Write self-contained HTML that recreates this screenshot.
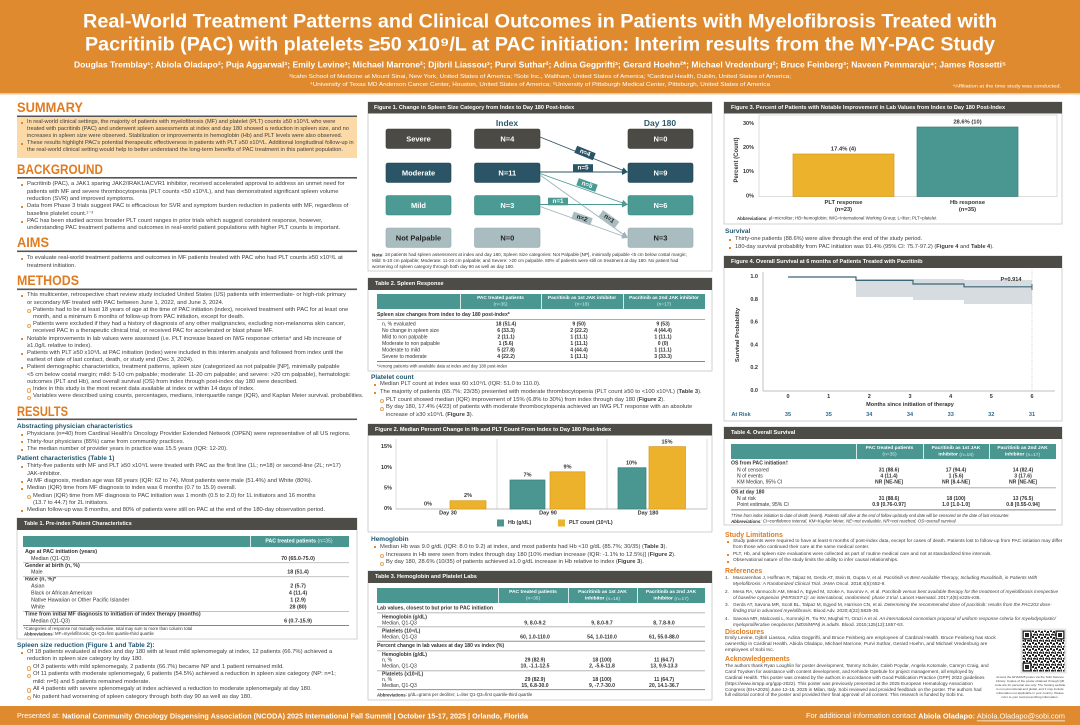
<!DOCTYPE html>
<html><head><meta charset="utf-8">
<style>
*{margin:0;padding:0;box-sizing:border-box}
body{width:1080px;height:725px;position:relative;overflow:hidden;background:#fff;font-family:"Liberation Sans",Arial,sans-serif}
svg{position:absolute;left:0;top:0}
svg text{font-family:"Liberation Sans",Arial,sans-serif;dominant-baseline:central}
.p{position:absolute;font-size:5.8px;line-height:7.3px;color:#3c3c3c;white-space:nowrap}
.p>div{position:relative}
.b{padding-left:11px}
.b:before{content:"";position:absolute;left:4.5px;top:2.7px;width:2px;height:2px;background:#E8842A}
.s{padding-left:17px}
.s:before{content:"";position:absolute;left:11px;top:2.3px;width:2.4px;height:2.4px;border:0.6px solid #ECA55C;border-radius:50%}
.sh{position:absolute;font-size:6.5px;font-weight:bold;color:#1F5670;white-space:nowrap;line-height:8px}
.oh{position:absolute;font-size:6.9px;font-weight:bold;color:#E07B20;white-space:nowrap;line-height:9px}
.r{font-size:4.7px;line-height:6.2px}
.r>div{padding-left:9px;margin-bottom:1.1px}
.r>div span.n{position:absolute;left:1px}
</style></head><body>
<svg width="1080" height="725" viewBox="0 0 1080 725">
<defs>
<marker id="ad" markerWidth="6" markerHeight="6" refX="5" refY="3" orient="auto" markerUnits="userSpaceOnUse"><path d="M0,0 L6,3 L0,6 z" fill="#2B5566"/></marker>
<marker id="at" markerWidth="6" markerHeight="6" refX="5" refY="3" orient="auto" markerUnits="userSpaceOnUse"><path d="M0,0 L6,3 L0,6 z" fill="#4B9A94"/></marker>
<marker id="ag" markerWidth="6" markerHeight="6" refX="5" refY="3" orient="auto" markerUnits="userSpaceOnUse"><path d="M0,0 L6,3 L0,6 z" fill="#9FB3B8"/></marker>
<pattern id="qr" width="6" height="6" patternUnits="userSpaceOnUse"><rect width="6" height="6" fill="#fff"/><rect x="0" y="0" width="2" height="2" fill="#222"/><rect x="3" y="1" width="2" height="2" fill="#222"/><rect x="1" y="4" width="3" height="1.5" fill="#222"/><rect x="4.5" y="3.5" width="1.5" height="2.5" fill="#222"/><rect x="2" y="2.5" width="1" height="1" fill="#222"/></pattern>
</defs>

<!-- HEADER -->
<rect x="0" y="0" width="1080" height="93" fill="#DF8A2F"/>
<rect x="0" y="93" width="1080" height="1.5" fill="#F2C595"/>
<text x="540" y="22" text-anchor="middle" font-size="19" font-weight="bold" fill="#fff" textLength="914" lengthAdjust="spacingAndGlyphs">Real-World Treatment Patterns and Clinical Outcomes in Patients with Myelofibrosis Treated with</text>
<text x="540" y="45" text-anchor="middle" font-size="19" font-weight="bold" fill="#fff" textLength="910" lengthAdjust="spacingAndGlyphs">Pacritinib (PAC) with platelets ≥50 x10⁹/L at PAC initiation: Interim results from the MY-PAC Study</text>
<text x="540" y="65" text-anchor="middle" font-size="8.2" font-weight="bold" fill="#fff" textLength="932" lengthAdjust="spacingAndGlyphs">Douglas Tremblay¹; Abiola Oladapo²; Puja Aggarwal³; Emily Levine³; Michael Marrone²; Djibril Liassou³; Purvi Suthar²; Adina Gegprifti³; Gerard Hoehn²*; Michael Vredenburg²; Bruce Feinberg³; Naveen Pemmaraju⁴; James Rossetti⁵</text>
<text x="540" y="77" text-anchor="middle" font-size="5.5" fill="#fff" textLength="502" lengthAdjust="spacingAndGlyphs">¹Icahn School of Medicine at Mount Sinai, New York, United States of America; ²Sobi Inc., Waltham, United States of America; ³Cardinal Health, Dublin, United States of America;</text>
<text x="540" y="85" text-anchor="middle" font-size="5.5" fill="#fff" textLength="460" lengthAdjust="spacingAndGlyphs">⁴University of Texas MD Anderson Cancer Center, Houston, United States of America; ⁵University of Pittsburgh Medical Center, Pittsburgh, United States of America</text>
<text x="1007" y="86" text-anchor="middle" font-size="4.5" fill="#fff" textLength="108" lengthAdjust="spacingAndGlyphs">*Affiliation at the time study was conducted.</text>

<!-- FOOTER -->
<rect x="0" y="706" width="1080" height="19" fill="#DF8A2F"/>
<text x="17" y="715.5" font-size="7.4" fill="#fff" textLength="511" lengthAdjust="spacingAndGlyphs">Presented at: <tspan font-weight="bold">National Community Oncology Dispensing Association (NCODA) 2025 International Fall Summit  |  October 15-17, 2025  |  Orlando, Florida</tspan></text>
<text x="806" y="715.5" font-size="7.4" fill="#fff" textLength="259" lengthAdjust="spacingAndGlyphs">For additional information contact <tspan font-weight="bold">Abiola Oladapo:</tspan> <tspan text-decoration="underline">Abiola.Oladapo@sobi.com</tspan></text>
<rect x="983" y="720.5" width="82" height="0.6" fill="#fff"/>

<!-- LEFT HEADINGS -->
<g font-size="14" font-weight="bold" fill="#E07B20">
<text x="17" y="107" textLength="66" lengthAdjust="spacingAndGlyphs">SUMMARY</text>
<text x="17" y="169" textLength="86" lengthAdjust="spacingAndGlyphs">BACKGROUND</text>
<text x="17" y="242" textLength="32" lengthAdjust="spacingAndGlyphs">AIMS</text>
<text x="17" y="280" textLength="62" lengthAdjust="spacingAndGlyphs">METHODS</text>
<text x="17" y="411" textLength="51" lengthAdjust="spacingAndGlyphs">RESULTS</text>
</g>
<g fill="#555">
<rect x="17" y="115.5" width="340" height="1.6"/>
<rect x="17" y="177" width="340" height="1.6"/>
<rect x="17" y="250.5" width="340" height="1.6"/>
<rect x="17" y="288.5" width="340" height="1.6"/>
<rect x="17" y="418.5" width="340" height="1.6"/>
</g>
<rect x="17" y="117.5" width="340" height="40.5" fill="#FCDAA8"/>

<!-- TABLE 1 -->
<rect x="17" y="518" width="340" height="121" fill="#fff" stroke="#C8C8C8" stroke-width="0.8"/>
<rect x="17" y="518" width="340" height="12" fill="#4D4C47"/>
<text x="24" y="524" font-size="5.5" font-weight="bold" fill="#fff">Table 1. Pre-index Patient Characteristics</text>
<rect x="23" y="536" width="326" height="11" fill="#4A9691"/>
<rect x="250" y="536" width="0.8" height="11" fill="#fff"/>
<text x="299" y="541.5" text-anchor="middle" font-size="5.2" font-weight="bold" fill="#fff">PAC treated patients <tspan font-weight="normal" fill="#d8ecea">(n=35)</tspan></text>
<g font-size="5.4" fill="#333">
<text x="25" y="552" font-weight="bold">Age at PAC initiation (years)</text>
<text x="31" y="559">Median (Q1-Q3)</text>
<text x="25" y="566" font-weight="bold">Gender at birth (n, %)</text>
<text x="31" y="572.5">Male</text>
<text x="25" y="579.5" font-weight="bold">Race (n, %)*</text>
<text x="31" y="586.5">Asian</text>
<text x="31" y="593.5">Black or African American</text>
<text x="31" y="600.3">Native Hawaiian or Other Pacific Islander</text>
<text x="31" y="607.3">White</text>
<text x="25" y="614.3" font-weight="bold">Time from initial MF diagnosis to initiation of index therapy (months)</text>
<text x="31" y="621.5">Median (Q1-Q3)</text>
<g font-weight="bold" text-anchor="middle">
<text x="298" y="559">70 (65.0-75.0)</text>
<text x="298" y="572.5">18 (51.4)</text>
<text x="298" y="586.5">2 (5.7)</text>
<text x="298" y="593.5">4 (11.4)</text>
<text x="298" y="600.3">1 (2.9)</text>
<text x="298" y="607.3">28 (80)</text>
<text x="298" y="621.5">6 (0.7-15.9)</text>
</g>
<text x="24" y="628.5" font-size="4.3">*Categories of response not mutually exclusive, total may sum to more than column total</text>
<text x="24" y="633.5" font-size="4.3"><tspan font-weight="bold">Abbreviations</tspan>: MF=myelofibrosis; Q1-Q3=first quartile-third quartile</text>
</g>
<g fill="#999">
<rect x="23" y="562.5" width="326" height="0.6"/>
<rect x="23" y="576.5" width="326" height="0.6"/>
<rect x="23" y="611" width="326" height="0.6"/>
<rect x="23" y="625" width="326" height="0.8" fill="#666"/>
</g>

<!-- FIGURE 1 -->
<rect x="368" y="102" width="344" height="169" fill="#fff" stroke="#C6C6C6" stroke-width="0.8"/>
<rect x="368" y="102" width="344" height="11.5" fill="#4D4C47"/>
<text x="374" y="108" font-size="5.6" font-weight="bold" fill="#fff">Figure 1. Change in Spleen Size Category from Index to Day 180 Post-Index</text>
<text x="507" y="123" text-anchor="middle" font-size="8.5" font-weight="bold" fill="#2D5A6E">Index</text>
<text x="660" y="123" text-anchor="middle" font-size="8.5" font-weight="bold" fill="#2D5A6E">Day 180</text>
<g stroke-width="0.6">
<rect x="386" y="129" width="65" height="19.5" rx="2" fill="#4B4A45" stroke="#3a3935"/>
<rect x="474.5" y="129" width="65.5" height="19.5" rx="2" fill="#4B4A45" stroke="#3a3935"/>
<rect x="628" y="129" width="65" height="19.5" rx="2" fill="#4B4A45" stroke="#3a3935"/>
<rect x="386" y="163" width="65" height="19.5" rx="2" fill="#2B5566" stroke="#1e4352"/>
<rect x="474.5" y="163" width="65.5" height="19.5" rx="2" fill="#2B5566" stroke="#1e4352"/>
<rect x="628" y="163" width="65" height="19.5" rx="2" fill="#2B5566" stroke="#1e4352"/>
<rect x="386" y="195.5" width="65" height="19.5" rx="2" fill="#4B9A94" stroke="#3b847e"/>
<rect x="474.5" y="195.5" width="65.5" height="19.5" rx="2" fill="#4B9A94" stroke="#3b847e"/>
<rect x="628" y="195.5" width="65" height="19.5" rx="2" fill="#4B9A94" stroke="#3b847e"/>
<rect x="386" y="228" width="65" height="19.5" rx="2" fill="#A9BDC1" stroke="#94a9ad"/>
<rect x="474.5" y="228" width="65.5" height="19.5" rx="2" fill="#A9BDC1" stroke="#94a9ad"/>
<rect x="628" y="228" width="65" height="19.5" rx="2" fill="#A9BDC1" stroke="#94a9ad"/>
</g>
<g font-size="7.5" font-weight="bold" fill="#fff" text-anchor="middle">
<text x="418.5" y="138.8">Severe</text><text x="507.3" y="138.8">N=4</text><text x="660.5" y="138.8">N=0</text>
<text x="418.5" y="172.8">Moderate</text><text x="507.3" y="172.8">N=11</text><text x="660.5" y="172.8">N=9</text>
<text x="418.5" y="205.3">Mild</text><text x="507.3" y="205.3">N=3</text><text x="660.5" y="205.3">N=6</text>
<g fill="#222"><text x="418.5" y="237.8">Not Palpable</text><text x="507.3" y="237.8">N=0</text><text x="660.5" y="237.8">N=3</text></g>
</g>
<g stroke-width="0.9">
<line x1="540" y1="137" x2="627" y2="172" stroke="#2B5566" marker-end="url(#ad)"/>
<line x1="540" y1="172" x2="627" y2="172" stroke="#2B5566" marker-end="url(#ad)"/>
<line x1="540" y1="173.5" x2="627" y2="204.5" stroke="#4B9A94" marker-end="url(#at)"/>
<line x1="540" y1="175" x2="627" y2="237" stroke="#9FB3B8" marker-end="url(#ag)"/>
<line x1="540" y1="204.5" x2="627" y2="204.5" stroke="#4B9A94" marker-end="url(#at)"/>
<line x1="540" y1="206.5" x2="627" y2="237.5" stroke="#9FB3B8" marker-end="url(#ag)"/>
</g>
<g font-size="6.3" font-weight="bold" text-anchor="middle">
<g transform="translate(585,153) rotate(22)"><rect x="-10" y="-3.8" width="20" height="7.6" fill="#2B5566"/><text x="0" y="0" fill="#fff">n=4</text></g>
<g transform="translate(583,168)"><rect x="-10" y="-3.8" width="20" height="7.6" fill="#2B5566"/><text x="0" y="0" fill="#fff">n=5</text></g>
<g transform="translate(587,185) rotate(19.6)"><rect x="-10" y="-3.8" width="20" height="7.6" fill="#4B9A94"/><text x="0" y="0" fill="#fff">n=5</text></g>
<g transform="translate(609,219) rotate(35.5)"><rect x="-10" y="-3.8" width="20" height="7.6" fill="#A9BDC1"/><text x="0" y="0" fill="#222">n=1</text></g>
<g transform="translate(558,201.5)"><rect x="-10" y="-3.8" width="20" height="7.6" fill="#4B9A94"/><text x="0" y="0" fill="#fff">n=1</text></g>
<g transform="translate(582,218.5) rotate(19.6)"><rect x="-10" y="-3.8" width="20" height="7.6" fill="#A9BDC1"/><text x="0" y="0" fill="#222">n=2</text></g>
</g>
<g font-size="4.6" fill="#333">
<text x="372" y="254.5"><tspan font-weight="bold">Note</tspan>: 18 patients had spleen assessment at index and day 180, Spleen Size categories: Not Palpable [NP], minimally palpable &lt;5 cm below costal margin;</text>
<text x="372" y="260.5">Mild: 5-10 cm palpable; Moderate: 11-20 cm palpable; and Severe: &gt;20 cm palpable. 80% of patients were still on treatment at day 180. No patient had</text>
<text x="372" y="266.5">worsening of spleen category through both day 90 as well as day 180.</text>
</g>

<!-- TABLE 2 -->
<rect x="368" y="278" width="344" height="93" fill="#fff" stroke="#C6C6C6" stroke-width="0.8"/>
<rect x="368" y="278" width="344" height="12" fill="#4D4C47"/>
<text x="375" y="284" font-size="5.6" font-weight="bold" fill="#fff">Table 2. Spleen Response</text>
<rect x="377" y="294" width="328" height="15" fill="#4A9691"/>
<g fill="#fff"><rect x="460" y="294" width="0.8" height="15"/><rect x="541" y="294" width="0.8" height="15"/><rect x="623" y="294" width="0.8" height="15"/></g>
<g font-size="4.8" font-weight="bold" fill="#fff" text-anchor="middle">
<text x="500.5" y="298.5">PAC treated patients</text><text x="582" y="298.5">Pacritinib as 1st JAK inhibitor</text><text x="664" y="298.5">Pacritinib as 2nd JAK inhibitor</text>
<g font-weight="normal" fill="#d8ecea"><text x="500.5" y="305">(n=35)</text><text x="582" y="305">(n=18)</text><text x="664" y="305">(n=17)</text></g>
</g>
<g font-size="5.1" fill="#333">
<text x="377" y="315" font-weight="bold">Spleen size changes from index to day 180 post-index*</text>
<text x="382" y="324.3">n, % evaluated</text>
<text x="382" y="330.8">No change in spleen size</text>
<text x="382" y="337.3">Mild to non palpable</text>
<text x="382" y="343.8">Moderate to non palpable</text>
<text x="382" y="350.5">Moderate to mild</text>
<text x="382" y="357">Severe to moderate</text>
<g font-weight="bold" text-anchor="middle">
<text x="506" y="324.3">18 (51.4)</text><text x="579" y="324.3">9 (50)</text><text x="663" y="324.3">9 (53)</text>
<text x="506" y="330.8">6 (33.3)</text><text x="579" y="330.8">2 (22.2)</text><text x="663" y="330.8">4 (44.4)</text>
<text x="506" y="337.3">2 (11.1)</text><text x="579" y="337.3">1 (11.1)</text><text x="663" y="337.3">1 (11.1)</text>
<text x="506" y="343.8">1 (5.6)</text><text x="579" y="343.8">1 (11.1)</text><text x="663" y="343.8">0 (0)</text>
<text x="506" y="350.5">5 (27.8)</text><text x="579" y="350.5">4 (44.4)</text><text x="663" y="350.5">1 (11.1)</text>
<text x="506" y="357">4 (22.2)</text><text x="579" y="357">1 (11.1)</text><text x="663" y="357">3 (33.3)</text>
</g>
<text x="377" y="366" font-size="4.3">*Among patients with available data at index and day 180 post-index</text>
</g>
<rect x="377" y="319" width="328" height="0.7" fill="#888"/>
<rect x="377" y="361" width="328" height="0.8" fill="#666"/>

<!-- FIGURE 2 -->
<rect x="368" y="424" width="344" height="108" fill="#fff" stroke="#C6C6C6" stroke-width="0.8"/>
<rect x="368" y="424" width="344" height="11.5" fill="#4D4C47"/>
<text x="375" y="430" font-size="5.6" font-weight="bold" fill="#fff">Figure 2. Median Percent Change in Hb and PLT Count From Index to Day 180 Post-Index</text>
<g stroke="#CFCFCF" stroke-width="0.7">
<line x1="396" y1="439" x2="396" y2="509"/><line x1="497" y1="439" x2="497" y2="509"/><line x1="607" y1="439" x2="607" y2="509"/><line x1="707" y1="439" x2="707" y2="509"/>
<line x1="396" y1="509" x2="707" y2="509" stroke="#AAA"/>
</g>
<g font-size="5.5" font-weight="bold" fill="#333" text-anchor="end">
<text x="392" y="447">15%</text><text x="392" y="468">10%</text><text x="392" y="488.5">5%</text><text x="392" y="509">0%</text>
</g>
<g stroke-width="0.7">
<rect x="450" y="500.7" width="36" height="8.3" fill="#EDB22C" stroke="#D39A1B"/>
<rect x="510" y="480" width="35" height="29" fill="#4A9691" stroke="#3A7C77"/>
<rect x="550" y="471.8" width="35" height="37.2" fill="#EDB22C" stroke="#D39A1B"/>
<rect x="618" y="467.7" width="28" height="41.3" fill="#4A9691" stroke="#3A7C77"/>
<rect x="649" y="446.6" width="36.5" height="62.4" fill="#EDB22C" stroke="#D39A1B"/>
</g>
<g font-size="5.5" font-weight="bold" fill="#333" text-anchor="middle">
<text x="428" y="504.5">0%</text><text x="468" y="496">2%</text><text x="527.5" y="475.5">7%</text><text x="567.5" y="467.5">9%</text><text x="631.5" y="463.5">10%</text><text x="667" y="442.5">15%</text>
<text x="448" y="513.5">Day 30</text><text x="548" y="513.5">Day 90</text><text x="648" y="513.5">Day 180</text>
</g>
<rect x="497" y="519.5" width="7" height="7" fill="#4A9691"/>
<text x="508" y="523" font-size="5.3" font-weight="bold" fill="#333">Hb (g/dL)</text>
<rect x="558" y="519.5" width="7" height="7" fill="#EDB22C"/>
<text x="569" y="523" font-size="5.3" font-weight="bold" fill="#333">PLT count (10⁹/L)</text>

<!-- TABLE 3 -->
<rect x="368" y="571" width="344" height="129" fill="#fff" stroke="#C6C6C6" stroke-width="0.8"/>
<rect x="368" y="571" width="344" height="12" fill="#4D4C47"/>
<text x="375" y="577" font-size="5.6" font-weight="bold" fill="#fff">Table 3. Hemoglobin and Platelet Labs</text>
<rect x="377" y="588" width="328" height="15" fill="#4A9691"/>
<g fill="#fff"><rect x="498" y="588" width="0.8" height="15"/><rect x="568" y="588" width="0.8" height="15"/><rect x="637" y="588" width="0.8" height="15"/></g>
<g font-size="4.9" font-weight="bold" fill="#fff" text-anchor="middle">
<text x="533" y="592.5">PAC treated patients</text><text x="602.5" y="592.5">Pacritinib as 1st JAK</text><text x="671" y="592.5">Pacritinib as 2nd JAK</text>
<text x="533" y="599" font-weight="normal" fill="#d8ecea">(n=35)</text>
<text x="602.5" y="599">inhibitor <tspan font-weight="normal" fill="#d8ecea">(n=18)</tspan></text>
<text x="671" y="599">inhibitor <tspan font-weight="normal" fill="#d8ecea">(n=17)</tspan></text>
</g>
<g font-size="5.1" fill="#333">
<text x="377" y="608.3" font-weight="bold">Lab values, closest to but prior to PAC initiation</text>
<text x="382" y="617.3" font-weight="bold">Hemoglobin (g/dL)</text>
<text x="382" y="623.3">Median, Q1-Q3</text>
<text x="382" y="631.7" font-weight="bold">Platelets (10⁹/L)</text>
<text x="382" y="637.3">Median, Q1-Q3</text>
<text x="377" y="646" font-weight="bold">Percent change in lab values at day 180 vs index (%)</text>
<text x="382" y="655" font-weight="bold">Hemoglobin (g/dL)</text>
<text x="382" y="660.7">n, %</text>
<text x="382" y="666.7">Median, Q1-Q3</text>
<text x="382" y="674.3" font-weight="bold">Platelets (x10⁹/L)</text>
<text x="382" y="680">n, %</text>
<text x="382" y="686">Median, Q1-Q3</text>
<g font-weight="bold" text-anchor="middle">
<text x="535" y="623.3">9, 8.0-9.2</text><text x="602" y="623.3">9, 8.0-9.7</text><text x="664" y="623.3">8, 7.8-9.0</text>
<text x="535" y="637.3">60, 1.0-110.0</text><text x="602" y="637.3">54, 1.0-110.0</text><text x="664" y="637.3">61, 55.0-88.0</text>
<text x="535" y="660.7">29 (82.9)</text><text x="602" y="660.7">18 (100)</text><text x="664" y="660.7">11 (64.7)</text>
<text x="535" y="666.7">10, -1.1-12.5</text><text x="602" y="666.7">2, -5.6-11.8</text><text x="664" y="666.7">13, 9.9-13.3</text>
<text x="535" y="680">29 (82.9)</text><text x="602" y="680">18 (100)</text><text x="664" y="680">11 (64.7)</text>
<text x="535" y="686">15, 6.8-30.0</text><text x="602" y="686">9, -7.7-30.0</text><text x="664" y="686">20, 14.1-36.7</text>
</g>
<text x="377" y="694.5" font-size="4.3"><tspan font-weight="bold">Abbreviations</tspan>: g/dL=grams per deciliter; L=liter Q1-Q3=first quartile-third quartile</text>
</g>
<g fill="#999">
<rect x="377" y="612.5" width="328" height="0.7"/>
<rect x="377" y="626.5" width="328" height="0.7"/>
<rect x="377" y="640.8" width="328" height="0.8" fill="#777"/>
<rect x="377" y="650.5" width="328" height="0.7"/>
<rect x="377" y="670.5" width="328" height="0.7"/>
<rect x="377" y="689.3" width="328" height="0.8" fill="#777"/>
</g>

<!-- FIGURE 3 -->
<rect x="724" y="102" width="338" height="122" fill="#fff" stroke="#C6C6C6" stroke-width="0.8"/>
<rect x="724" y="102" width="338" height="11.5" fill="#4D4C47"/>
<text x="731" y="108" font-size="5.6" font-weight="bold" fill="#fff">Figure 3. Percent of Patients with Notable Improvement in Lab Values from Index to Day 180 Post-Index</text>
<rect x="759" y="115" width="298" height="81.5" fill="none" stroke="#CFCFCF" stroke-width="0.7"/>
<g font-size="5.5" font-weight="bold" fill="#333" text-anchor="end">
<text x="754" y="124">30%</text><text x="754" y="148">20%</text><text x="754" y="172">10%</text><text x="754" y="196.5">0%</text>
</g>
<text transform="translate(737,160) rotate(-90)" text-anchor="middle" font-size="6" font-weight="bold" fill="#333">Percent (Count)</text>
<rect x="793" y="154" width="101" height="42.5" fill="#EDB22C" stroke="#D39A1B" stroke-width="0.7"/>
<rect x="917" y="127" width="101" height="69.5" fill="#4A9691" stroke="#3A7C77" stroke-width="0.7"/>
<g font-size="5.8" font-weight="bold" fill="#333" text-anchor="middle">
<text x="843.5" y="149.5">17.4% (4)</text><text x="967.5" y="122.5">28.6% (10)</text>
<text x="843.5" y="203">PLT response</text><text x="843.5" y="210">(n=23)</text>
<text x="967.5" y="203">Hb response</text><text x="967.5" y="210">(n=35)</text>
</g>
<text x="737" y="218" font-size="4.4" fill="#333"><tspan font-weight="bold">Abbreviations</tspan>: µl=microliter; HB=hemoglobin; IWG=International Working Group; L=liter; PLT=platelet</text>

<!-- FIGURE 4 -->
<rect x="724" y="256" width="338" height="165" fill="#fff" stroke="#C6C6C6" stroke-width="0.8"/>
<rect x="724" y="256" width="338" height="12" fill="#4D4C47"/>
<text x="731" y="262" font-size="5.6" font-weight="bold" fill="#fff">Figure 4. Overall Survival at 6 months of Patients Treated with Pacritinib</text>
<g fill="#D6DCDF">
<rect x="856" y="279" width="57" height="18"/>
<rect x="913" y="279" width="51" height="21"/>
<rect x="964" y="280" width="68" height="24"/>
</g>
<line x1="1032" y1="270" x2="1032" y2="391" stroke="#BBB" stroke-width="0.6" stroke-dasharray="1,1"/>
<line x1="763" y1="272" x2="763" y2="391" stroke="#AAA" stroke-width="0.7"/>
<line x1="763" y1="391" x2="1055" y2="391" stroke="#AAA" stroke-width="0.7"/>
<path d="M788,277 H856 V280.4 H913 V284 H964 V286.8 H1032" fill="none" stroke="#3E6478" stroke-width="1.2"/>
<line x1="1032" y1="284" x2="1032" y2="290" stroke="#3E6478" stroke-width="1"/>
<text x="1011" y="280" font-size="5.6" font-weight="bold" fill="#333" text-anchor="middle">P=0.914</text>
<g font-size="5.5" font-weight="bold" fill="#333" text-anchor="end">
<text x="758" y="277">1.0</text><text x="758" y="299.8">0.8</text><text x="758" y="322.6">0.6</text><text x="758" y="345.4">0.4</text><text x="758" y="368.2">0.2</text><text x="758" y="391">0.0</text>
</g>
<text transform="translate(738,335) rotate(-90)" text-anchor="middle" font-size="5.8" font-weight="bold" fill="#333">Survival Probability</text>
<g font-size="5.5" font-weight="bold" fill="#333" text-anchor="middle">
<text x="788" y="397">0</text><text x="828.7" y="397">1</text><text x="869.3" y="397">2</text><text x="910" y="397">3</text><text x="950.7" y="397">4</text><text x="991.3" y="397">5</text><text x="1032" y="397">6</text>
<text x="910" y="405">Months since initiation of therapy</text>
</g>
<g font-size="5.6" font-weight="bold" fill="#2D6A8A" text-anchor="middle">
<text x="741" y="415">At Risk</text>
<text x="788" y="415">35</text><text x="828.7" y="415">35</text><text x="869.3" y="415">34</text><text x="910" y="415">34</text><text x="950.7" y="415">33</text><text x="991.3" y="415">32</text><text x="1032" y="415">31</text>
</g>

<!-- TABLE 4 -->
<rect x="724" y="427" width="338" height="98" fill="#fff" stroke="#C6C6C6" stroke-width="0.8"/>
<rect x="724" y="427" width="338" height="12" fill="#4D4C47"/>
<text x="731" y="433" font-size="5.6" font-weight="bold" fill="#fff">Table 4. Overall Survival</text>
<rect x="731" y="444" width="325" height="15" fill="#4A9691"/>
<g fill="#fff"><rect x="856" y="444" width="0.8" height="15"/><rect x="923" y="444" width="0.8" height="15"/><rect x="989" y="444" width="0.8" height="15"/></g>
<g font-size="4.9" font-weight="bold" fill="#fff" text-anchor="middle">
<text x="889.5" y="448.5">PAC treated patients</text><text x="956" y="448.5">Pacritinib as 1st JAK</text><text x="1022.5" y="448.5">Pacritinib as 2nd JAK</text>
<text x="889.5" y="455" font-weight="normal" fill="#d8ecea">(n=35)</text>
<text x="956" y="455">inhibitor <tspan font-weight="normal" fill="#d8ecea">(n=18)</tspan></text>
<text x="1022.5" y="455">inhibitor <tspan font-weight="normal" fill="#d8ecea">(n=17)</tspan></text>
</g>
<g font-size="5.1" fill="#333">
<text x="731" y="463.5" font-weight="bold">OS from PAC initiation†</text>
<text x="737" y="470.5">N of censored</text>
<text x="737" y="476.7">N of events</text>
<text x="737" y="482.7">KM Median, 95% CI</text>
<text x="731" y="492.7" font-weight="bold">OS at day 180</text>
<text x="737" y="499">N at risk</text>
<text x="737" y="505">Point estimate, 95% CI</text>
<g font-weight="bold" text-anchor="middle">
<text x="889" y="470.5">31 (88.6)</text><text x="956" y="470.5">17 (94.4)</text><text x="1023" y="470.5">14 (82.4)</text>
<text x="889" y="476.7">4 (11.4)</text><text x="956" y="476.7">1 (5.6)</text><text x="1023" y="476.7">3 (17.6)</text>
<text x="889" y="482.7">NR [NE-NE]</text><text x="956" y="482.7">NR [8.4-NE]</text><text x="1023" y="482.7">NR [NE-NE]</text>
<text x="889" y="499">31 (88.6)</text><text x="956" y="499">18 (100)</text><text x="1023" y="499">13 (76.5)</text>
<text x="889" y="505">0.9 [0.76-0.97]</text><text x="956" y="505">1.0 [1.0-1.0]</text><text x="1023" y="505">0.8 [0.55-0.94]</text>
</g>
<text x="731" y="515.5" font-size="4.1" font-style="italic">†Time from index initiation to date of death (event). Patients still alive at the end of follow up/study end date will be censored on the date of last encounter.</text>
<text x="731" y="521" font-size="4.4" font-style="italic"><tspan font-weight="bold">Abbreviations</tspan>: CI=confidence interval, KM=Kaplan Meier, NE=not evaluable, NR=not reached, OS=overall survival</text>
</g>
<rect x="731" y="487.5" width="325" height="0.7" fill="#888"/>
<rect x="731" y="509.5" width="325" height="0.8" fill="#666"/>

<!-- QR -->
<rect x="1021" y="629" width="45" height="44" fill="#eee" stroke="#ccc" stroke-width="0.5"/>
<rect x="1022.5" y="630.5" width="42" height="41" fill="url(#qr)"/>
<g fill="#222">
<rect x="1022.5" y="630.5" width="9" height="9"/><rect x="1055.5" y="630.5" width="9" height="9"/><rect x="1022.5" y="662.5" width="9" height="9"/>
</g>
<g fill="#fff"><rect x="1023.8" y="631.8" width="6.4" height="6.4"/><rect x="1056.8" y="631.8" width="6.4" height="6.4"/><rect x="1023.8" y="663.8" width="6.4" height="6.4"/></g>
<g fill="#222"><rect x="1025" y="633" width="4" height="4"/><rect x="1058" y="633" width="4" height="4"/><rect x="1025" y="665" width="4" height="4"/></g>
<g font-size="3.1" fill="#444" text-anchor="middle">
<text x="1030" y="677">Access the EHA2025 poster via the Sobi Science</text>
<text x="1030" y="681">Library. Copies of the poster obtained through QR</text>
<text x="1030" y="685">code are for personal use only. The hosting website</text>
<text x="1030" y="689">is non-promotional and global, and it may include</text>
<text x="1030" y="693">information not applicable in your country. Please</text>
<text x="1030" y="697">refer to your local prescribing information.</text>
</g>
</svg>

<!-- LEFT COLUMN TEXT -->
<div class="p" style="left:16px;top:119px;line-height:7.1px;font-size:5.65px">
<div class="b">In real-world clinical settings, the majority of patients with myelofibrosis (MF) and platelet (PLT) counts ≥50 x10⁹/L who were<br>treated with pacritinib (PAC) and underwent spleen assessments at index and day 180 showed a reduction in spleen size, and no<br>increases in spleen size were observed. Stabilization or improvements in hemoglobin (Hb) and PLT levels were also observed.</div>
<div class="b">These results highlight PAC's potential therapeutic effectiveness in patients with PLT ≥50 x10⁹/L. Additional longitudinal follow-up in<br>the real-world clinical setting would help to better understand the long-term benefits of PAC treatment in this patient population.</div>
</div>
<div class="p" style="left:16px;top:181.3px;line-height:7.33px">
<div class="b">Pacritinib (PAC), a JAK1 sparing JAK2/IRAK1/ACVR1 inhibitor, received accelerated approval to address an unmet need for<br>patients with MF and severe thrombocytopenia (PLT counts &lt;50 x10⁹/L), and has demonstrated significant spleen volume<br>reduction (SVR) and improved symptoms.</div>
<div class="b">Data from Phase 3 trials suggest PAC is efficacious for SVR and symptom burden reduction in patients with MF, regardless of<br>baseline platelet count.¹⁻³</div>
<div class="b">PAC has been studied across broader PLT count ranges in prior trials which suggest consistent response, however,<br>understanding PAC treatment patterns and outcomes in real-world patient populations with higher PLT counts is important.</div>
</div>
<div class="p" style="left:16px;top:255.3px">
<div class="b">To evaluate real-world treatment patterns and outcomes in MF patients treated with PAC who had PLT counts ≥50 x10⁹/L at<br>treatment initiation.</div>
</div>
<div class="p" style="left:16px;top:292.4px;line-height:7.2px">
<div class="b">This multicenter, retrospective chart review study included United States (US) patients with intermediate- or high-risk primary<br>or secondary MF treated with PAC between June 1, 2022, and June 3, 2024.</div>
<div class="s">Patients had to be at least 18 years of age at the time of PAC initiation (index), received treatment with PAC for at least one<br>month, and a minimum 6 months of follow-up from PAC initiation, except for death.</div>
<div class="s">Patients were excluded if they had a history of diagnosis of any other malignancies, excluding non-melanoma skin cancer,<br>received PAC in a therapeutic clinical trial, or received PAC for accelerated or blast phase MF.</div>
<div class="b">Notable improvements in lab values were assessed (i.e. PLT increase based on IWG response criteria⁴ and Hb increase of<br>≥1.0g/L relative to index).</div>
<div class="b">Patients with PLT ≥50 x10⁹/L at PAC initiation (index) were included in this interim analysis and followed from index until the<br>earliest of date of last contact, death, or study end (Dec 3, 2024).</div>
<div class="b">Patient demographic characteristics, treatment patterns, spleen size (categorized as not palpable [NP], minimally palpable<br>&lt;5 cm below costal margin; mild: 5-10 cm palpable; moderate: 11-20 cm palpable; and severe: &gt;20 cm palpable), hematologic<br>outcomes (PLT and Hb), and overall survival (OS) from index through post-index day 180 were described.</div>
<div class="s">Index in this study is the most recent data available at index or within 14 days of index.</div>
<div class="s">Variables were described using counts, percentages, medians, interquartile range (IQR), and Kaplan Meier survival. probabilities.</div>
</div>
<div class="sh" style="left:17px;top:423px">Abstracting physician characteristics</div>
<div class="p" style="left:16px;top:431.3px;line-height:7.5px">
<div class="b">Physicians (n=40) from Cardinal Health's Oncology Provider Extended Network (OPEN) were representative of all US regions.</div>
<div class="b">Thirty-four physicians (85%) came from community practices.</div>
<div class="b">The median number of provider years in practice was 15.5 years (IQR: 12-20).</div>
</div>
<div class="sh" style="left:17px;top:455px">Patient characteristics (Table 1)</div>
<div class="p" style="left:16px;top:463.3px;line-height:7.33px">
<div class="b">Thirty-five patients with MF and PLT ≥50 x10⁹/L were treated with PAC as the first line (1L; n=18) or second-line (2L; n=17)<br>JAK-inhibitor.</div>
<div class="b">At MF diagnosis, median age was 68 years (IQR: 62 to 74). Most patients were male (51.4%) and White (80%).</div>
<div class="b">Median (IQR) time from MF diagnosis to index was 6 months (0.7 to 15.9) overall.</div>
<div class="s">Median (IQR) time from MF diagnosis to PAC initiation was 1 month (0.5 to 2.0) for 1L initiators and 16 months<br>(13.7 to 44.7) for 2L initiators.</div>
<div class="b">Median follow-up was 8 months, and 80% of patients were still on PAC at the end of the 180-day observation period.</div>
</div>
<div class="sh" style="left:17px;top:642px">Spleen size reduction (Figure 1 and Table 2):</div>
<div class="p" style="left:16px;top:649px;line-height:7.43px">
<div class="b">Of 18 patients evaluated at index and day 180 with at least mild splenomegaly at index, 12 patients (66.7%) achieved a<br>reduction in spleen size category by day 180.</div>
<div class="s">Of 3 patients with mild splenomegaly, 2 patients (66.7%) became NP and 1 patient remained mild.</div>
<div class="s">Of 11 patients with moderate splenomegaly, 6 patients (54.5%) achieved a reduction in spleen size category (NP: n=1;<br>mild: n=5) and 5 patients remained moderate.</div>
<div class="s">All 4 patients with severe splenomegaly at index achieved a reduction to moderate splenomegaly at day 180.</div>
<div class="s">No patient had worsening of spleen category through both day 90 as well as day 180.</div>
</div>

<!-- MIDDLE COLUMN TEXT -->
<div class="sh" style="left:371px;top:374px">Platelet count</div>
<div class="p" style="left:369px;top:381.3px;line-height:7.7px">
<div class="b">Median PLT count at index was 60 x10⁹/L (IQR: 51.0 to 110.0).</div>
<div class="b">The majority of patients (65.7%; 23/35) presented with moderate thrombocytopenia (PLT count ≥50 to &lt;100 x10⁹/L) (<b>Table 3</b>).</div>
<div class="s">PLT count showed median (IQR) improvement of 15% (6.8% to 30%) from index through day 180 (<b>Figure 2</b>).</div>
<div class="s">By day 180, 17.4% (4/23) of patients with moderate thrombocytopenia achieved an IWG PLT response with an absolute<br>increase of ≥30 x10⁹/L (<b>Figure 3</b>).</div>
</div>
<div class="sh" style="left:371px;top:536px">Hemoglobin</div>
<div class="p" style="left:369px;top:543.8px;line-height:7.8px">
<div class="b">Median Hb was 9.0 g/dL (IQR: 8.0 to 9.2) at index, and most patients had Hb &lt;10 g/dL (85.7%; 30/35) (<b>Table 3</b>).</div>
<div class="s">Increases in Hb were seen from index through day 180 [10% median increase (IQR: -1.1% to 12.5%)] (<b>Figure 2</b>).</div>
<div class="s">By day 180, 28.6% (10/35) of patients achieved ≥1.0 g/dL increase in Hb relative to index (<b>Figure 3</b>).</div>
</div>

<!-- RIGHT COLUMN TEXT -->
<div class="sh" style="left:725px;top:228px">Survival</div>
<div class="p" style="left:724px;top:236.3px;line-height:7.9px;font-size:5.7px">
<div class="b">Thirty-one patients (88.6%) were alive through the end of the study period.</div>
<div class="b">180-day survival probability from PAC initiation was 91.4% (95% CI: 75.7-97.2) (<b>Figure 4</b> and <b>Table 4</b>).</div>
</div>
<div class="oh" style="left:725px;top:530.5px">Study Limitations</div>
<div class="p" style="left:722px;top:538.5px;font-size:4.8px;line-height:6.6px">
<div class="b">Study patients were required to have at least 6 months of post-index data, except for cases of death. Patients lost to follow-up from PAC initiation may differ<br>from those who continued their care at the same medical center.</div>
<div class="b">PLT, Hb, and spleen size evaluations were collected as part of routine medical care and not at standardized time intervals.</div>
<div class="b">Observational nature of the study limits the ability to infer causal relationships.</div>
</div>
<div class="oh" style="left:725px;top:567.2px">References</div>
<div class="p r" style="left:724px;top:575.2px">
<div><span class="n">1.</span>Mascarenhas J, Hoffman R, Talpaz M, Gerds AT, Stein B, Gupta V, et al. <i>Pacritinib vs Best Available Therapy, Including Ruxolitinib, in Patients With<br>Myelofibrosis: A Randomized Clinical Trial</i>. JAMA Oncol. 2018;4(5):652-9.</div>
<div><span class="n">2.</span>Mesa RA, Vannucchi AM, Mead A, Egyed M, Szoke A, Suvorov A, et al. <i>Pacritinib versus best available therapy for the treatment of myelofibrosis irrespective<br>of baseline cytopenias (PERSIST-1): an international, randomised, phase 3 trial</i>. Lancet Haematol. 2017;4(5):e225-e36.</div>
<div><span class="n">3.</span>Gerds AT, Savona MR, Scott BL, Talpaz M, Egyed M, Harrison CN, et al. <i>Determining the recommended dose of pacritinib: results from the PAC203 dose-<br>finding trial in advanced myelofibrosis</i>. Blood Adv. 2020;4(22):5825-35.</div>
<div><span class="n">4.</span>Savona MR, Malcovati L, Komrokji R, Tiu RV, Mughal TI, Orazi A et al. <i>An international consortium proposal of uniform response criteria for myelodysplastic/<br>myeloproliferative neoplasms (MDS/MPN) in adults</i>. Blood. 2015;125(12):1857-63.</div>
</div>
<div class="oh" style="left:725px;top:627.8px">Disclosures</div>
<div class="p" style="left:725px;top:636px;font-size:4.85px;line-height:6px">Emily Levine, Djibril Liassou, Adina Gegprifti, and Bruce Feinberg are employees of Cardinal Health. Bruce Feinberg has stock<br>ownership in Cardinal Health. Abiola Oladapo, Michael Marrone, Purvi Suthar, Gerard Hoehn, and Michael Vredenburg are<br>employees of Sobi Inc.</div>
<div class="oh" style="left:725px;top:654.5px">Acknowledgements</div>
<div class="p" style="left:725px;top:663px;font-size:4.7px;line-height:5.87px">The authors thank Ryan Loughlin for poster development, Tammy Schuler, Caleb Poydar, Angela Kotomale, Camryn Craig, and<br>Carol Toyoken for assistance with content development, and Kehinde Opebule for project management, all employed by<br>Cardinal Health. This poster was created by the authors in accordance with Good Publication Practice (GPP) 2022 guidelines<br>(https://www.ismpp.org/gpp-2022). This poster was previously presented at the 2025 European Hematology Association<br>Congress (EHA2025) June 12-15, 2025 in Milan, Italy. Sobi reviewed and provided feedback on the poster. The authors had<br>full editorial control of the poster and provided their final approval of all content. This research is funded by Sobi Inc.</div>
</body></html>
